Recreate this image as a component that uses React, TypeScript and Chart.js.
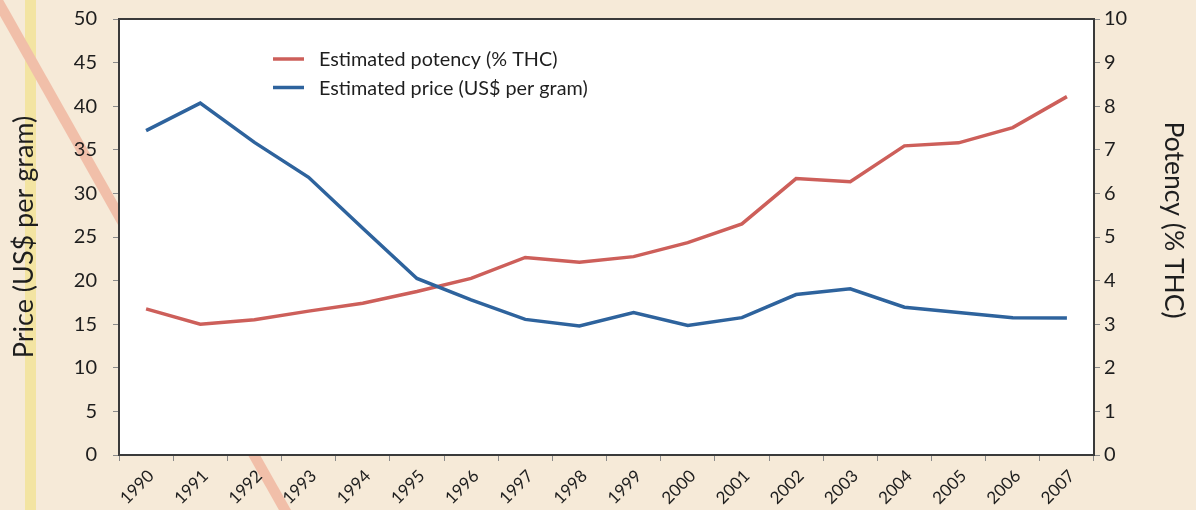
import React, { useEffect, useRef } from "react";
import { Chart, registerables } from "chart.js";

Chart.register(...registerables);

const years = ["1990","1991","1992","1993","1994","1995","1996","1997","1998","1999","2000","2001","2002","2003","2004","2005","2006","2007"];
const potency = [3.35, 3.0, 3.1, 3.3, 3.48, 3.75, 4.05, 4.53, 4.42, 4.55, 4.87, 5.3, 6.34, 6.27, 7.09, 7.16, 7.51, 8.22];
const price = [37.2, 40.35, 35.85, 31.85, 26.0, 20.25, 17.8, 15.55, 14.8, 16.35, 14.85, 15.75, 18.4, 19.05, 16.95, 16.35, 15.75, 15.7];
const priceTicks = { min: 0, max: 50, step: 5 };
const potencyTicks = { min: 0, max: 10, step: 1 };

const BG = "#f6ead8";
const TEXT = "#1e1e1e";
const RED = "#cd5f5a";
const BLUE = "#2e639d";
const FONT = "Lato";

const decorPlugin = {
  id: "decor",
  beforeDraw(chart: any) {
    const { ctx, chartArea, width, height } = chart;
    ctx.save();
    ctx.fillStyle = BG;
    ctx.fillRect(0, 0, width, height);
    // yellow vertical stripe
    ctx.fillStyle = "#f3e4a2";
    ctx.fillRect(25, 0, 11, height);
    // pink diagonal stripe
    ctx.strokeStyle = "#f1bfa9";
    ctx.lineWidth = 10.5;
    ctx.beginPath();
    ctx.moveTo(-10, 5 - 17.72);
    ctx.lineTo(300, 5 + 1.772 * 300);
    ctx.stroke();
    // plot area
    ctx.fillStyle = "#ffffff";
    ctx.fillRect(chartArea.left, chartArea.top, chartArea.right - chartArea.left, chartArea.bottom - chartArea.top);
    ctx.restore();
  },
  afterDraw(chart: any) {
    const { ctx, chartArea } = chart;
    ctx.save();
    ctx.strokeStyle = "#3a3a3a";
    ctx.lineWidth = 2;
    ctx.strokeRect(chartArea.left, chartArea.top, chartArea.right - chartArea.left, chartArea.bottom - chartArea.top);
    // legend
    const x0 = chartArea.left + 154;
    const y0 = chartArea.top + 40;
    ctx.font = `19.8px ${FONT}`;
    ctx.textBaseline = "middle";
    ctx.textAlign = "left";
    chart.data.datasets.forEach((ds: any, i: number) => {
      const y = y0 + i * 28.5;
      ctx.strokeStyle = ds.borderColor;
      ctx.lineWidth = 3.5;
      ctx.beginPath();
      ctx.moveTo(x0, y);
      ctx.lineTo(x0 + 31, y);
      ctx.stroke();
      ctx.fillStyle = TEXT;
      ctx.fillText(ds.label, x0 + 46, y + 1);
    });
    ctx.restore();
  },
};

export default function App() {
  const ref = useRef<HTMLCanvasElement | null>(null);
  useEffect(() => {
    document.body.style.margin = "0";
    const chart = new Chart(ref.current as HTMLCanvasElement, {
      type: "line",
      data: {
        labels: years,
        datasets: [
          {
            label: "Estimated potency (% THC)",
            data: potency,
            yAxisID: "y1",
            borderColor: RED,
            backgroundColor: RED,
            borderWidth: 3.5,
            pointRadius: 0,
            tension: 0,
            order: 2,
          },
          {
            label: "Estimated price (US$ per gram)",
            data: price,
            yAxisID: "y",
            borderColor: BLUE,
            backgroundColor: BLUE,
            borderWidth: 3.5,
            pointRadius: 0,
            tension: 0,
            order: 1,
          },
        ],
      },
      options: {
        responsive: false,
        animation: false,
        layout: { padding: { top: 19, left: 0, right: 0, bottom: 0 } },
        plugins: { legend: { display: false }, tooltip: { enabled: false } },
        scales: {
          x: {
            type: "category",
            offset: true,
            grid: { offset: true, drawOnChartArea: false, tickLength: 6, color: "#8a8a8a" },
            border: { display: false },
            ticks: {
              minRotation: 45,
              maxRotation: 45,
              autoSkip: false,
              padding: 5,
              labelOffset: 5,
              color: TEXT,
              font: { family: FONT, size: 17 },
            },
            afterFit: (s: any) => {
              s.height = 55;
              s.paddingLeft = 0;
              s.paddingRight = 0;
            },
          },
          y: {
            position: "left",
            min: priceTicks.min,
            max: priceTicks.max,
            grid: { drawOnChartArea: false, tickLength: 6, color: "#8a8a8a" },
            border: { display: false },
            ticks: { stepSize: priceTicks.step, padding: 16, color: TEXT, font: { family: FONT, size: 20 } },
            title: {
              display: true,
              text: "Price (US$ per gram)",
              color: TEXT,
              font: { family: FONT, size: 27 },
              padding: { top: 8, bottom: 0 },
            },
            afterFit: (s: any) => {
              s.width = 119;
              s.paddingTop = 0;
              s.paddingBottom = 0;
            },
          },
          y1: {
            position: "right",
            min: potencyTicks.min,
            max: potencyTicks.max,
            grid: { drawOnChartArea: false, tickLength: 6, color: "#8a8a8a" },
            border: { display: false },
            ticks: { stepSize: potencyTicks.step, padding: 4, color: TEXT, font: { family: FONT, size: 20 } },
            title: {
              display: true,
              text: "Potency (% THC)     ",
              color: TEXT,
              font: { family: FONT, size: 26.5 },
              padding: { top: 7, bottom: 0 },
            },
            afterFit: (s: any) => {
              s.width = 102;
              s.paddingTop = 0;
              s.paddingBottom = 0;
            },
          },
        },
      },
      plugins: [decorPlugin],
    });
    return () => chart.destroy();
  }, []);
  return (
    <div style={{ position: "absolute", left: 0, top: 0, width: 1196, height: 510 }}>
      <canvas ref={ref} width={1196} height={510} style={{ width: 1196, height: 510, display: "block" }} />
    </div>
  );
}
